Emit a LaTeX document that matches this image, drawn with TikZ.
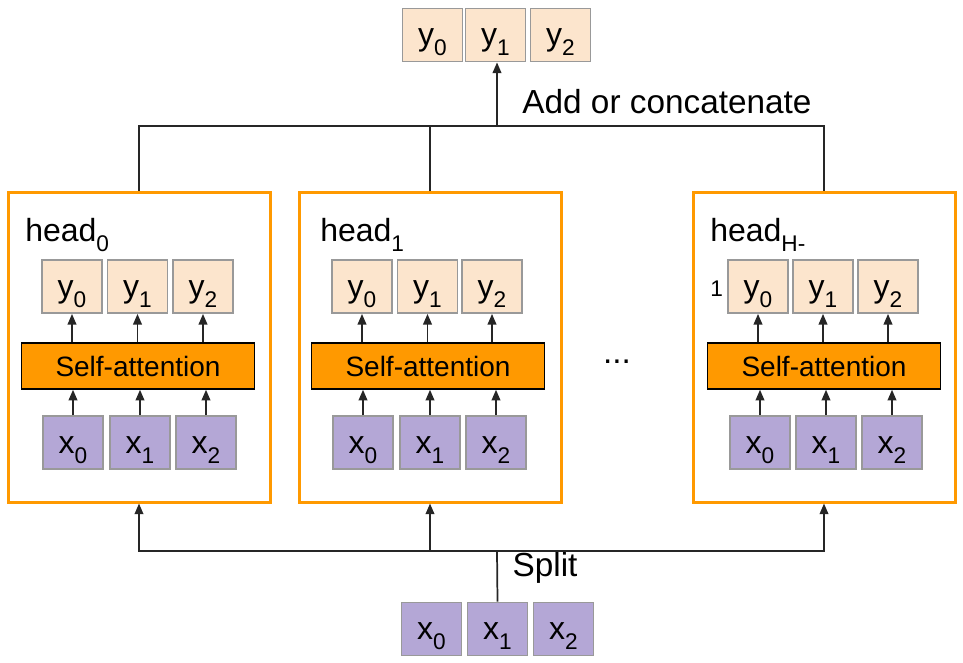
\documentclass[tikz,border=0pt]{standalone}
\usepackage{fontspec}
\setmainfont{Liberation Sans}
\usetikzlibrary{arrows.meta}
\definecolor{peach}{HTML}{FCE5CD}
\definecolor{lilac}{HTML}{B4A7D6}
\definecolor{amber}{HTML}{FF9900}
\definecolor{edge}{HTML}{999999}
\definecolor{ink}{HTML}{262626}
\newcommand\subsz{\fontsize{17pt}{20pt}\selectfont}
\newcommand\sub[1]{\raisebox{-0.32em}{\subsz #1}}
\tikzset{
  cell/.style={draw=edge,line width=1.1pt,minimum width=45pt,minimum height=40pt,inner sep=0pt,text height=20pt,text depth=4pt,font=\fontsize{24pt}{28pt}\selectfont},
  ycell/.style={cell,fill=peach},
  xcell/.style={cell,fill=lilac},
  attn/.style={draw=black,line width=1.1pt,fill=amber,minimum width=175pt,minimum height=34.5pt,inner sep=0pt,font=\fontsize{21pt}{25pt}\selectfont},
  headbox/.style={draw=amber,line width=2.25pt,minimum width=196.5pt,minimum height=232.5pt,inner sep=0pt},
  headlbl/.style={anchor=base west,inner sep=0pt,font=\fontsize{24pt}{29pt}\selectfont},
  lbl/.style={font=\fontsize{25pt}{30pt}\selectfont,inner sep=0pt},
  wire/.style={draw=ink,line width=1.3pt},
  arr/.style={wire,-{Triangle[length=8pt,width=6.5pt]}}
}
\begin{document}
\begin{tikzpicture}[x=0.75pt,y=-0.75pt]
\useasboundingbox (0,0) rectangle (963,662);

% output on top
\node[ycell] (ty0) at (432.5,35) {y\sub{0}};
\node[ycell] (ty1) at (495.5,35) {y\sub{1}};
\node[ycell] (ty2) at (560.5,35) {y\sub{2}};
\node[lbl] (addlbl) at (667,102) {Add or concatenate};

% head 0
\node[headbox] (h0) at (139,347) {};
\node[headlbl] (h0lbl) at (25,241) {head\sub{0}};
\node[ycell] (h0y0) at (72,286.5) {y\sub{0}};
\node[ycell] (h0y1) at (137.5,286.5) {y\sub{1}};
\node[ycell] (h0y2) at (203,286.5) {y\sub{2}};
\node[attn] (h0sa) at (138,366) {Self-attention};
\node[xcell] (h0x0) at (73,442.5) {x\sub{0}};
\node[xcell] (h0x1) at (140,442.5) {x\sub{1}};
\node[xcell] (h0x2) at (206,442.5) {x\sub{2}};

% head 1
\node[headbox] (h1) at (430,347) {};
\node[headlbl] (h1lbl) at (320,241) {head\sub{1}};
\node[ycell] (h1y0) at (362,286.5) {y\sub{0}};
\node[ycell] (h1y1) at (427.5,286.5) {y\sub{1}};
\node[ycell] (h1y2) at (492,286.5) {y\sub{2}};
\node[attn] (h1sa) at (428,366) {Self-attention};
\node[xcell] (h1x0) at (363,442.5) {x\sub{0}};
\node[xcell] (h1x1) at (430,442.5) {x\sub{1}};
\node[xcell] (h1x2) at (496,442.5) {x\sub{2}};

\node[lbl] (dots) at (617,362) {...};

% head H-1
\node[headbox] (h2) at (824,347) {};
\node[headlbl,anchor=north west,align=left] (h2lbl) at (710,218) {head\sub{H-}\\[12pt]{\subsz 1}};
\node[ycell] (h2y0) at (758,286.5) {y\sub{0}};
\node[ycell] (h2y1) at (823,286.5) {y\sub{1}};
\node[ycell] (h2y2) at (888,286.5) {y\sub{2}};
\node[attn] (h2sa) at (824,366) {Self-attention};
\node[xcell] (h2x0) at (760,442.5) {x\sub{0}};
\node[xcell] (h2x1) at (826,442.5) {x\sub{1}};
\node[xcell] (h2x2) at (892,442.5) {x\sub{2}};

% input at the bottom
\node[xcell] (bx0) at (431.5,629) {x\sub{0}};
\node[xcell] (bx1) at (497.5,629) {x\sub{1}};
\node[xcell] (bx2) at (563.5,629) {x\sub{2}};
\node[lbl] (splitlbl) at (545,568) {Split};

\coordinate (join) at (497,126);
\coordinate (split) at (497,551);

% arrows inside the heads
\draw[arr] (h0x0.north) -- (h0x0.north |- h0sa.south);
\draw[arr] (h0x1.north) -- (h0x1.north |- h0sa.south);
\draw[arr] (h0x2.north) -- (h0x2.north |- h0sa.south);
\draw[arr] (h0y0.south |- h0sa.north) -- (h0y0.south);
\draw[arr] (h0y1.south |- h0sa.north) -- (h0y1.south);
\draw[arr] (h0y2.south |- h0sa.north) -- (h0y2.south);

\draw[arr] (h1x0.north) -- (h1x0.north |- h1sa.south);
\draw[arr] (h1x1.north) -- (h1x1.north |- h1sa.south);
\draw[arr] (h1x2.north) -- (h1x2.north |- h1sa.south);
\draw[arr] (h1y0.south |- h1sa.north) -- (h1y0.south);
\draw[arr] (h1y1.south |- h1sa.north) -- (h1y1.south);
\draw[arr] (h1y2.south |- h1sa.north) -- (h1y2.south);

\draw[arr] (h2x0.north) -- (h2x0.north |- h2sa.south);
\draw[arr] (h2x1.north) -- (h2x1.north |- h2sa.south);
\draw[arr] (h2x2.north) -- (h2x2.north |- h2sa.south);
\draw[arr] (h2y0.south |- h2sa.north) -- (h2y0.south);
\draw[arr] (h2y1.south |- h2sa.north) -- (h2y1.south);
\draw[arr] (h2y2.south |- h2sa.north) -- (h2y2.south);

% merge
\draw[wire] (h0.north) |- (join) -| (h2.north);
\draw[wire] (h1.north) -- (h1.north |- join);
\draw[arr] (join) -- (join |- ty1.south);

% split
\draw[wire] (bx1.north) -- (split);
\draw[arr] (split) -| (h0.south);
\draw[arr] (split) -| (h2.south);
\draw[arr] (h1.south |- split) -- (h1.south);
\end{tikzpicture}
\end{document}
